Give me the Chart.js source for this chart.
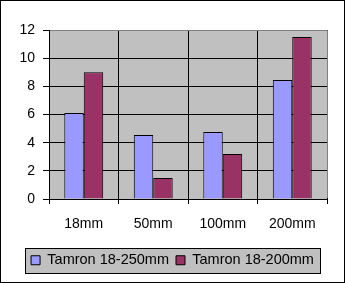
<!DOCTYPE html>
<html><head><meta charset="utf-8">
<script src="https://cdn.jsdelivr.net/npm/chart.js@4/dist/chart.umd.min.js"></script>
<style>html,body{margin:0;padding:0;background:#fff}</style>
</head><body>
<canvas id="c" width="345" height="283"></canvas>
<script>
const categories = ['18mm', '50mm', '100mm', '200mm'];
const seriesNames = ['Tamron 18-250mm', 'Tamron 18-200mm'];
const tamron18_250 = [6.1, 4.55, 4.75, 8.45];
const tamron18_200 = [9.0, 1.5, 3.2, 11.5];
const yTicks = [0, 2, 4, 6, 8, 10, 12];

const FONT = {family: "'Liberation Sans', Arial, sans-serif", size: 14};
const LEGEND_FONT = {family: "'Liberation Sans', Arial, sans-serif", size: 14.5};

const decor = {
  id: 'decor',
  beforeDraw(chart) {
    const ctx = chart.ctx, a = chart.chartArea;
    ctx.save();
    ctx.fillStyle = '#fff';
    ctx.fillRect(0, 0, chart.width, chart.height);
    ctx.strokeStyle = '#000'; ctx.lineWidth = 1;
    ctx.strokeRect(0.5, 0.5, chart.width - 1, chart.height - 1);
    ctx.fillStyle = '#C0C0C0';
    ctx.fillRect(a.left, a.top, a.right - a.left, a.bottom - a.top);
    const hb = chart.legend && chart.legend.legendHitBoxes;
    if (hb && hb.length) {
      let l = Infinity, r = -Infinity, t = Infinity, b = -Infinity;
      hb.forEach(h => { l = Math.min(l, h.left); r = Math.max(r, h.left + h.width); t = Math.min(t, h.top); b = Math.max(b, h.top + h.height); });
      const cy = (t + b) / 2;
      const x0 = Math.round(l - 6) + 0.5, x1 = Math.round(r + 6) + 0.5;
      const y0 = Math.round(cy - 12.5) + 0.5, y1 = Math.round(cy + 12.5) + 0.5;
      ctx.fillStyle = '#C0C0C0';
      ctx.fillRect(x0, y0, x1 - x0, y1 - y0);
      ctx.strokeStyle = '#000';
      ctx.strokeRect(x0, y0, x1 - x0, y1 - y0);
    }
    ctx.restore();
  },
  afterDatasetsDraw(chart) {
    const ctx = chart.ctx, a = chart.chartArea;
    ctx.save();
    ctx.strokeStyle = '#808080'; ctx.lineWidth = 1;
    const top = Math.round(a.top - 0.5) + 0.5, right = Math.round(a.right - 0.5) + 0.5;
    ctx.beginPath();
    ctx.moveTo(a.left + 1, top); ctx.lineTo(right, top); ctx.lineTo(right, a.bottom - 1);
    ctx.stroke();
    ctx.restore();
  }
};

new Chart(document.getElementById('c'), {
  type: 'bar',
  data: {
    labels: categories,
    datasets: [
      {label: seriesNames[0], data: tamron18_250, backgroundColor: '#9999FF', borderColor: '#000', borderWidth: 1},
      {label: seriesNames[1], data: tamron18_200, backgroundColor: '#993366', borderColor: '#000', borderWidth: 1}
    ]
  },
  options: {
    responsive: false,
    animation: false,
    devicePixelRatio: 1,
    layout: {padding: {top: 30, right: 0, left: 0, bottom: 5.5}},
    datasets: {bar: {categoryPercentage: 0.56, barPercentage: 1}},
    plugins: {
      legend: {
        position: 'bottom',
        labels: {boxWidth: 9, boxHeight: 9, padding: 7, color: '#000', font: LEGEND_FONT}
      },
      tooltip: {enabled: false}
    },
    scales: {
      x: {
        afterFit(s) { s.height = 47; },
        grid: {color: '#000', tickLength: 5, offset: true},
        border: {color: '#000'},
        ticks: {color: '#000', font: FONT, padding: 12, maxRotation: 0}
      },
      y: {
        min: 0, max: 12,
        afterFit(s) { s.width = 49; },
        afterBuildTicks(s) { s.ticks = yTicks.map(v => ({value: v})); },
        grid: {color: '#000', tickLength: 6},
        border: {color: '#000'},
        ticks: {color: '#000', font: FONT, padding: 8}
      },
      rightGap: {
        type: 'linear',
        position: 'right',
        afterFit(s) { s.width = 18; },
        grid: {display: false, drawTicks: false},
        border: {display: false},
        ticks: {display: false}
      }
    }
  },
  plugins: [decor]
});
</script>
</body></html>
